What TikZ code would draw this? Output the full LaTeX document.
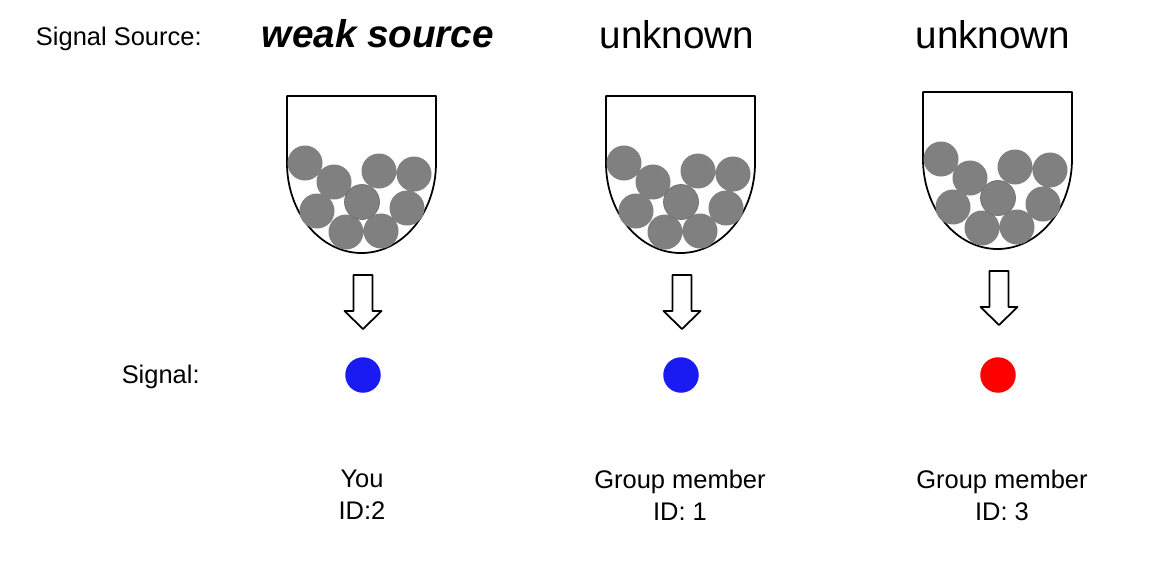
\documentclass[tikz,border=0pt]{standalone}
\usepackage{fontspec}
\setmainfont{Liberation Sans}
\usepackage{xcolor}
\definecolor{ballc}{HTML}{808080}
\definecolor{ballrim}{HTML}{6E6E6E}
\definecolor{sigblue}{HTML}{1A1AF2}
\definecolor{sigred}{HTML}{FF0000}

\begin{document}
\begin{tikzpicture}[x=0.02cm, y=-0.02cm, inner sep=0pt,
    lbl/.style={font=\fontsize{14.5}{18.2}\selectfont},
    ttl/.style={font=\fontsize{22}{26}\selectfont, anchor=base},
    urnline/.style={line width=1pt, line join=round},
    sigdot/.style={circle, minimum size=0.71cm}]
  \useasboundingbox (0,0) rectangle (1170,562);

  % row labels
  \node[lbl, anchor=base east] (srclbl) at (202,45) {Signal Source:};
  \node[lbl, anchor=base east] (siglbl) at (200,383) {Signal:};

  % source titles
  \node[ttl] (src1) at (378,47) {\textbf{\textit{weak source}}};
  \node[ttl] (src2) at (677,48) {unknown};
  \node[ttl] (src3) at (993,48) {unknown};

  % urn 1
  \begin{scope}
    \draw[urnline] (287,96) -- (287,163) arc[start angle=180, end angle=0, x radius=74.5, y radius=90] -- (436,96) -- cycle;
    \fill[ballc] (305,163) circle (17.5) (334,182) circle (17.5) (379,171) circle (17.5)
      (414,174) circle (17.5) (317,211) circle (17.5) (407,208) circle (17.5)
      (346,232) circle (17.5) (381,231) circle (17.5);
    \filldraw[ballc, draw=ballrim, line width=0.4pt] (362,202) circle (17.5);
    \draw[urnline] (353.5,275) -- ++(19,0) -- ++(0,36) -- ++(9,0) -- ++(-18.5,18) -- ++(-18.5,-18) -- ++(9,0) -- cycle;
  \end{scope}

  % urn 2
  \begin{scope}[shift={(319,0)}]
    \draw[urnline] (287,96) -- (287,163) arc[start angle=180, end angle=0, x radius=74.5, y radius=90] -- (436,96) -- cycle;
    \fill[ballc] (305,163) circle (17.5) (334,182) circle (17.5) (379,171) circle (17.5)
      (414,174) circle (17.5) (317,211) circle (17.5) (407,208) circle (17.5)
      (346,232) circle (17.5) (381,231) circle (17.5);
    \filldraw[ballc, draw=ballrim, line width=0.4pt] (362,202) circle (17.5);
    \draw[urnline] (353.5,275) -- ++(19,0) -- ++(0,36) -- ++(9,0) -- ++(-18.5,18) -- ++(-18.5,-18) -- ++(9,0) -- cycle;
  \end{scope}

  % urn 3
  \begin{scope}[shift={(636,-4)}]
    \draw[urnline] (287,96) -- (287,163) arc[start angle=180, end angle=0, x radius=74.5, y radius=90] -- (436,96) -- cycle;
    \fill[ballc] (305,163) circle (17.5) (334,182) circle (17.5) (379,171) circle (17.5)
      (414,174) circle (17.5) (317,211) circle (17.5) (407,208) circle (17.5)
      (346,232) circle (17.5) (381,231) circle (17.5);
    \filldraw[ballc, draw=ballrim, line width=0.4pt] (362,202) circle (17.5);
    \draw[urnline] (353.5,275) -- ++(19,0) -- ++(0,36) -- ++(9,0) -- ++(-18.5,18) -- ++(-18.5,-18) -- ++(9,0) -- cycle;
  \end{scope}

  % signals
  \node[sigdot, fill=sigblue] (sig1) at (363,375) {};
  \node[sigdot, fill=sigblue] (sig2) at (681,375) {};
  \node[sigdot, fill=sigred] (sig3) at (998,375) {};

  % players
  \node[lbl, align=center] (who1) at (362,495) {You\\ID:2};
  \node[lbl, align=center] (who2) at (680,495) {Group member\\ID: 1};
  \node[lbl, align=center] (who3) at (1002,495) {Group member\\ID: 3};
\end{tikzpicture}
\end{document}
